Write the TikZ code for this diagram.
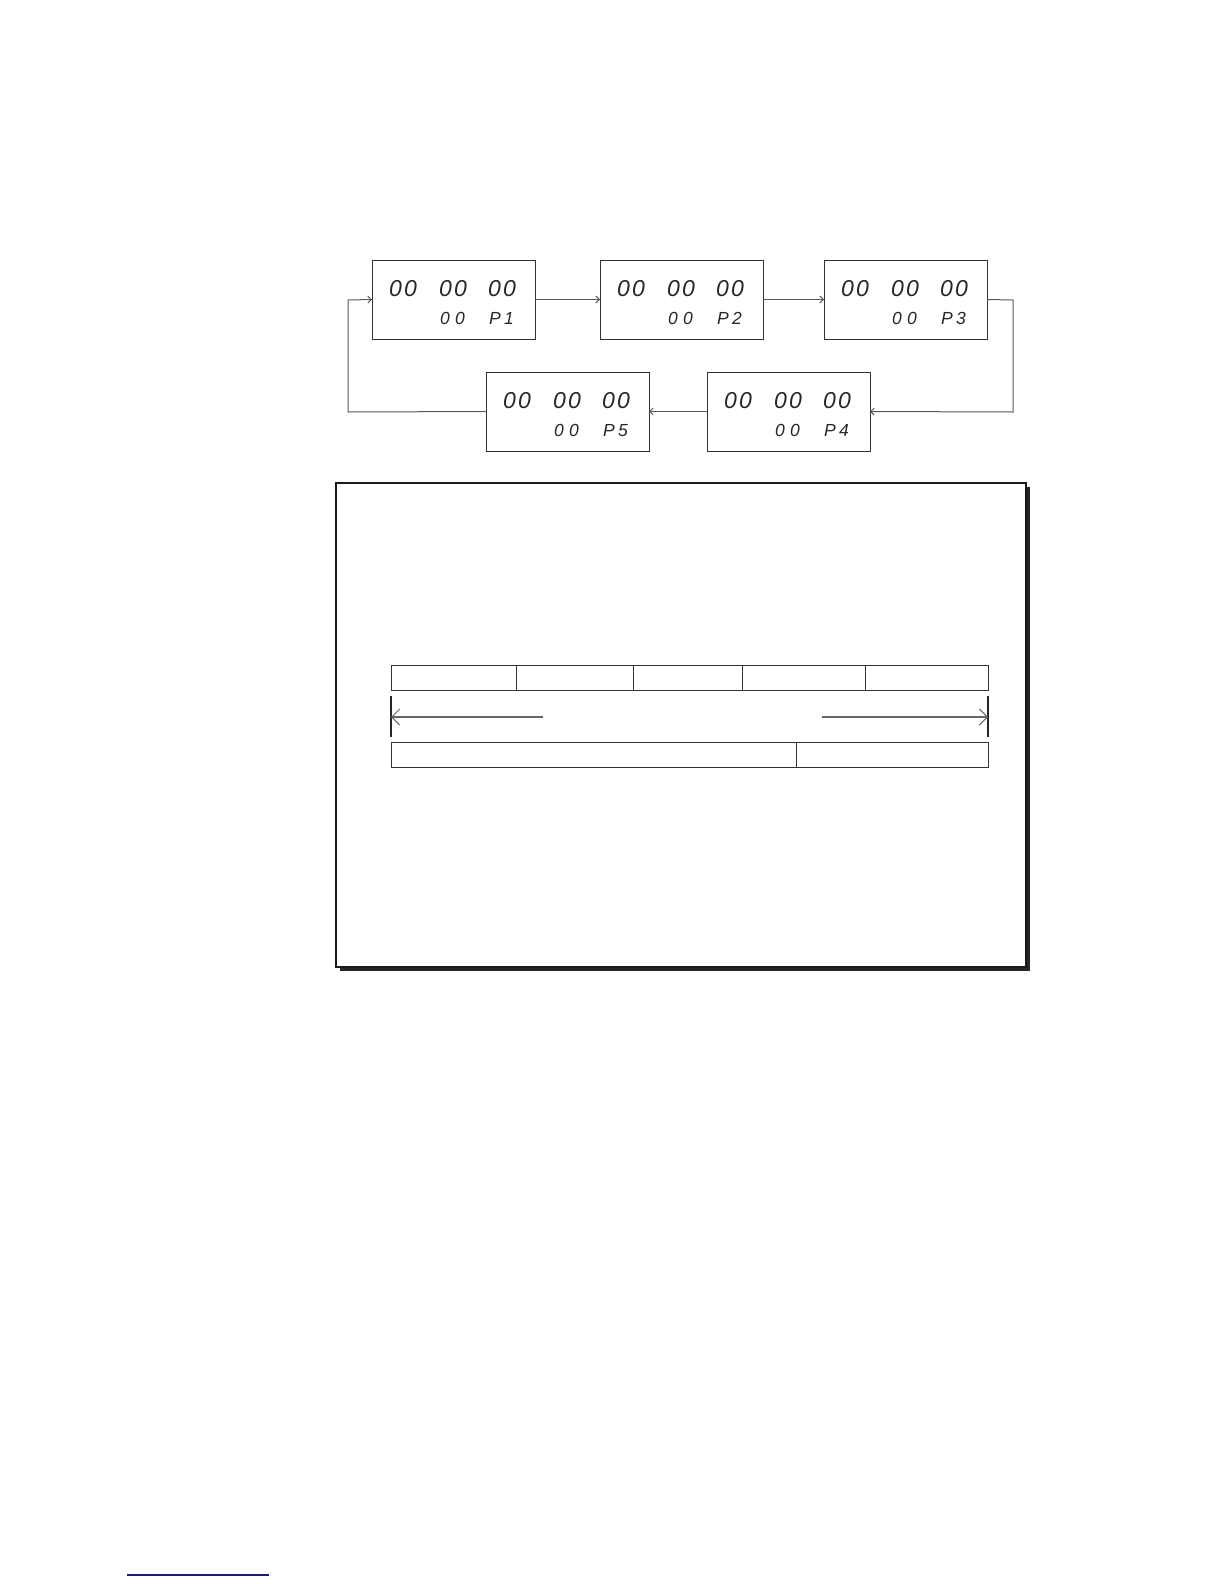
\documentclass[tikz,border=0pt]{standalone}
\usepackage{fontspec}
\newfontfamily\segfont{Liberation Sans}
\usetikzlibrary{arrows.meta}
\definecolor{navyline}{RGB}{25,25,140}
\newcommand\dd[2]{\makebox[15pt][l]{#1}#2}
\newcommand\dispunit[4]{%
  \node[disp] (#1) at (#2,#3) {};
  \node[bigseg] (#1a) at ([shift={(17,36)}]#1.north west) {\dd00};
  \node[bigseg] (#1b) at ([shift={(67,36)}]#1.north west) {\dd00};
  \node[bigseg] (#1c) at ([shift={(116,36)}]#1.north west) {\dd00};
  \node[smallseg] (#1d) at ([shift={(68,64)}]#1.north west) {\dd00};
  \node[smallseg] (#1e) at ([shift={(117,64)}]#1.north west) {\dd P#4};
}
\begin{document}
\begin{tikzpicture}[x=1pt,y=-1pt,
  disp/.style={draw=black!80, line width=0.9pt, minimum width=163pt, minimum height=79pt, inner sep=0pt, outer sep=0pt, anchor=north west},
  bigseg/.style={font=\segfont\itshape\fontsize{23}{23}\selectfont, anchor=base west, inner sep=0pt, text=black!85},
  smallseg/.style={font=\segfont\itshape\fontsize{17.5}{17}\selectfont, anchor=base west, inner sep=0pt, text=black!85},
  flow/.style={draw=black!65, line width=1pt, line join=miter, -{Straight Barb[length=3.5pt,width=7pt]}},
  cell/.style={draw=black!80, line width=1pt, minimum height=25pt, inner sep=0pt, outer sep=0pt, anchor=north west},
  span/.style={draw=black!60, line width=1.4pt, -{Straight Barb[length=8pt,width=16pt,line width=1pt]}},
  tick/.style={draw=black!85, line width=1.2pt}
]
\useasboundingbox (0,0) rectangle (1224,1584);
% display units
\dispunit{p1}{372}{260}{1}
\dispunit{p2}{600}{260}{2}
\dispunit{p3}{824}{260}{3}
\dispunit{p4}{707}{372}{4}
\dispunit{p5}{486}{372}{5}
% connectors
\coordinate (r1) at (1013,300);
\coordinate (r2) at (1013,412);
\coordinate (l1) at (348,412);
\coordinate (l2) at (348,300);
\draw[flow] (p1.east) -- (p2.west);
\draw[flow] (p2.east) -- (p3.west);
\draw[flow] (p3.east) -- (r1) -- (r2) -- (p4.east);
\draw[flow] (p4.west) -- (p5.east);
\draw[flow] (p5.west) -- (l1) -- (l2) -- (p1.west);
% framed panel with shadow
\fill[black!85] (340,487) rectangle (1030,971);
\node[draw=black!90, fill=white, line width=1.8pt, minimum width=690pt, minimum height=484pt, inner sep=0pt, outer sep=0pt, anchor=north west] (panel) at (336,483) {};
% top bar cells
\node[cell, minimum width=125pt] (t1) at (391,665) {};
\node[cell, minimum width=117pt] (t2) at (516,665) {};
\node[cell, minimum width=109pt] (t3) at (633,665) {};
\node[cell, minimum width=123pt] (t4) at (742,665) {};
\node[cell, minimum width=123pt] (t5) at (865,665) {};
% span arrows
\coordinate (sl) at (391,717);
\coordinate (sr) at (988,717);
\coordinate (sla) at (543,717);
\coordinate (sra) at (822,717);
\coordinate (tl1) at (391,696);
\coordinate (tl2) at (391,737);
\coordinate (tr1) at (988,696);
\coordinate (tr2) at (988,737);
\draw[tick] (tl1) -- (tl2);
\draw[tick] (tr1) -- (tr2);
\draw[span] (sla) -- (sl);
\draw[span] (sra) -- (sr);
% bottom bar cells
\node[cell, minimum width=405pt] (b1) at (391,742) {};
\node[cell, minimum width=192pt] (b2) at (796,742) {};
% footer rule
\coordinate (f1) at (127,1575);
\coordinate (f2) at (269,1575);
\draw[navyline, line width=1.2pt] (f1) -- (f2);
\end{tikzpicture}
\end{document}
